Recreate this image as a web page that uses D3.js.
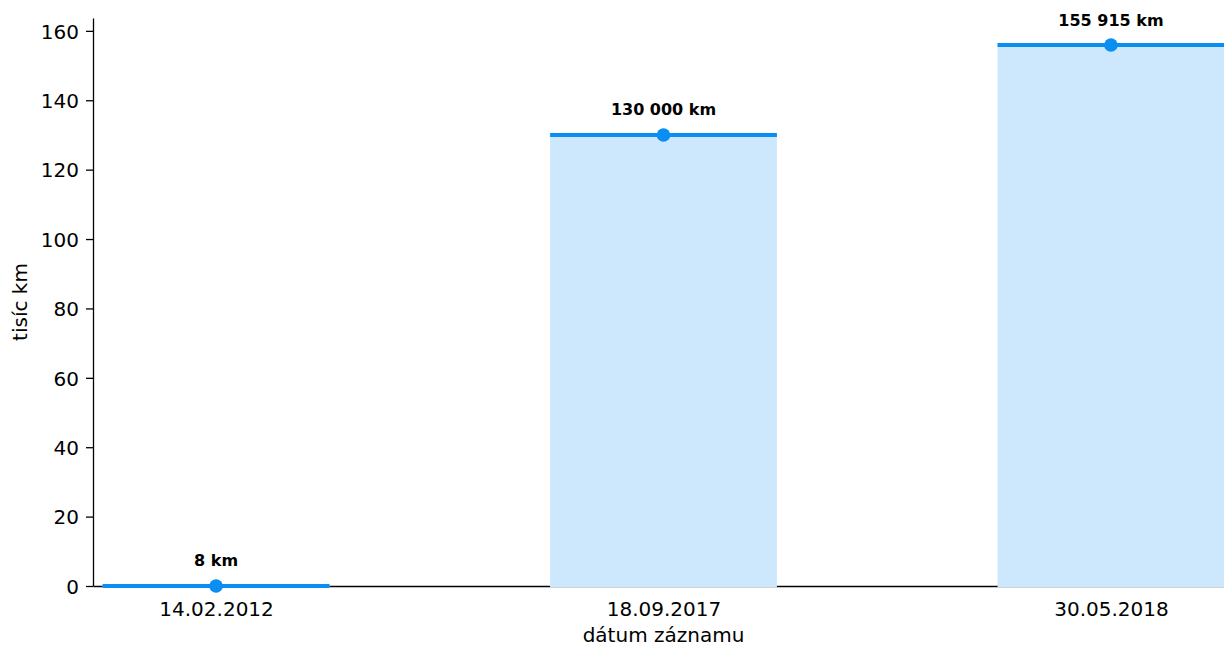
<!DOCTYPE html>
<html>
<head>
<meta charset="utf-8">
<script src="https://cdn.jsdelivr.net/npm/d3@7/dist/d3.min.js"></script>
<style>
    body { margin: 0; background: #fff; }
    svg { display: block; font-family: "DejaVu Sans", sans-serif; }
    .axis text { font-family: "DejaVu Sans", sans-serif; font-size: 20px; fill: #000; }
    .axis path, .axis line { stroke: #000; stroke-width: 1.3; }
    .barlabel { font-size: 16px; font-weight: bold; text-anchor: middle; }
</style>
</head>
<body>
<div id="chart"></div>
<script>
// odometer readings
var dates = ["14.02.2012", "18.09.2017", "30.05.2018"];
var km = [8, 130000, 155915];
var yTicks = [0, 20, 40, 60, 80, 100, 120, 140, 160];

var width = 1224;
var height = 646;
var margin = {top: 18, right: -10, bottom: 60, left: 93};
var chartWidth = width - margin.left - margin.right;
var chartHeight = height - margin.top - margin.bottom;

var lineColor = "#0a8ef2";
var fillColor = "#cde8fc";
var barWidth = 0.507;

var data = dates.map(function(d, i){
    return {date: d, idx: i, km: km[i], k: km[i] / 1000};
});

var svg = d3.select("#chart").append("svg")
    .attr("width", width)
    .attr("height", height);

var xScale = d3.scaleLinear()
    .domain([-0.275, dates.length - 1 + 0.275])
    .range([0, chartWidth]);

var yScale = d3.scaleLinear()
    .domain([0, d3.max(data, function(d){ return d.k; }) * 1.05])
    .range([chartHeight, 0]);

var g = svg.append("g")
    .attr("transform", "translate(" + margin.left + "," + margin.top + ")");

// axes
g.append("g")
    .attr("class", "axis")
    .call(d3.axisLeft(yScale).tickValues(yTicks).tickSize(7).tickPadding(7).tickSizeOuter(0))
    .selectAll("text")
    .attr("dy", "0.36em");

var xAxis = g.append("g")
    .attr("class", "axis")
    .attr("transform", "translate(0," + chartHeight + ")")
    .call(d3.axisBottom(xScale)
        .tickValues(data.map(function(d){ return d.idx; }))
        .tickFormat(function(i){ return dates[i]; })
        .tickSize(0).tickPadding(7).tickSizeOuter(0));
xAxis.selectAll("text").attr("y", 0).attr("dy", "1.5em");

// bars
g.selectAll("rect.bar")
    .data(data)
    .enter()
    .append("rect")
    .attr("class", "bar")
    .attr("x", function(d){ return xScale(d.idx - barWidth / 2); })
    .attr("width", xScale(barWidth) - xScale(0))
    .attr("y", function(d){ return yScale(d.k); })
    .attr("height", function(d){ return chartHeight - yScale(d.k) + 1.5; })
    .style("fill", fillColor);

g.selectAll("line.level")
    .data(data)
    .enter()
    .append("line")
    .attr("class", "level")
    .attr("x1", function(d){ return xScale(d.idx - barWidth / 2); })
    .attr("x2", function(d){ return xScale(d.idx + barWidth / 2); })
    .attr("y1", function(d){ return yScale(d.k); })
    .attr("y2", function(d){ return yScale(d.k); })
    .style("stroke", lineColor)
    .style("stroke-width", 4);

g.selectAll("circle.dot")
    .data(data)
    .enter()
    .append("circle")
    .attr("class", "dot")
    .attr("cx", function(d){ return xScale(d.idx); })
    .attr("cy", function(d){ return yScale(d.k); })
    .attr("r", 6.8)
    .style("fill", lineColor);

var fmt = d3.format(",");
g.selectAll("text.barlabel")
    .data(data)
    .enter()
    .append("text")
    .attr("class", "barlabel")
    .attr("x", function(d){ return xScale(d.idx); })
    .attr("y", function(d){ return yScale(d.k) - 19.5; })
    .text(function(d){ return fmt(d.km).replace(/,/g, " ") + " km"; });

// axis titles
svg.append("text")
    .attr("x", margin.left + chartWidth / 2)
    .attr("y", 642)
    .attr("text-anchor", "middle")
    .style("font-size", "20px")
    .text("dátum záznamu");

svg.append("text")
    .attr("transform", "translate(27," + (margin.top + chartHeight / 2) + ") rotate(-90)")
    .attr("text-anchor", "middle")
    .style("font-size", "20px")
    .text("tisíc km");
</script>
</body>
</html>
